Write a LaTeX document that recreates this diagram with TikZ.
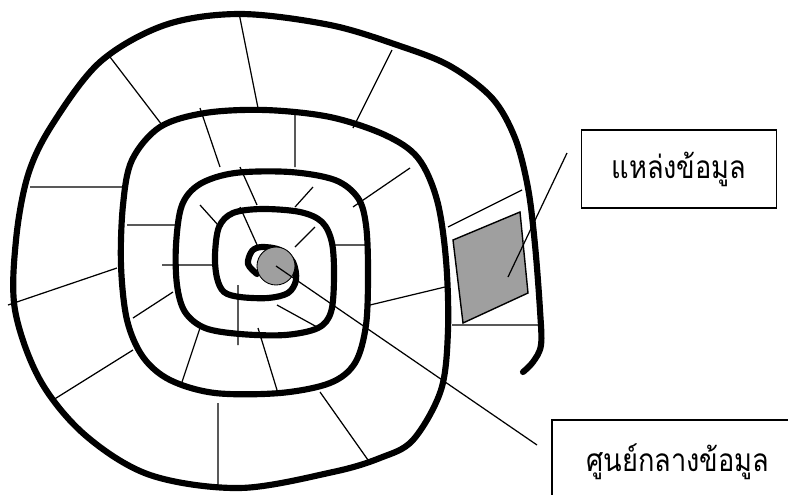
\documentclass[tikz,border=0pt]{standalone}
\usepackage{fontspec}
\newfontfamily\thaifont[Script=Thai, FakeStretch=0.86]{Loma}
\usepackage{tikz}
\usetikzlibrary{positioning}

\begin{document}
\begin{tikzpicture}[
  x=0.02cm, y=-0.02cm,
  coil/.style={line width=3.5pt, line cap=round, line join=round},
  spoke/.style={line width=0.7pt},
  hub/.style={circle, draw, line width=0.5pt, fill=gray!75, minimum size=0.76cm, inner sep=0pt},
  tag/.style={rectangle, draw, line width=0.8pt, font=\thaifont\fontsize{18}{21}\selectfont,
              inner sep=0pt},
  lead/.style={line width=0.7pt}
]
\clip (0,0) rectangle (788,494);
\fill[white] (0,0) rectangle (788,494);

% the spiral, from the inner hook outward
\draw[coil] plot[smooth, tension=0.55] coordinates {
  (257,274) (248,264) (252,251) (262,247) (280,250) (293,262) (296,280) (288,293)
  (268,298) (240,297) (224,292) (217,278) (215,255) (219,227) (233,213) (262,209)
  (300,212) (322,222) (332,243) (334,278) (331,312) (318,328) (285,335) (240,334)
  (205,328) (185,312) (177,285) (176,245) (182,205) (200,184) (235,173) (290,172)
  (335,180) (358,198) (366,225) (368,270) (366,325) (355,363) (330,383) (280,393)
  (215,393) (170,380) (143,357) (127,320) (121,265) (123,205) (132,160) (160,127)
  (205,113) (265,110) (330,117) (385,135) (418,158) (437,200) (446,260) (448,330)
  (441,390) (413,440) (380,458) (333,472) (240,488) (150,475) (85,435) (40,380)
  (15,310) (16,240) (28,175) (52,125) (100,62) (165,25) (240,14) (330,25)
  (400,46) (450,66) (492,98) (515,138) (528,188) (535,245) (540,310) (541,345)
  (533,362) (523,372)};

% cross lines between the turns
\draw[spoke]
  (110,57) -- (162,125)   (239,13) -- (258,108)   (392,50) -- (353,128)
  (30,187) -- (125,187)   (8,305) -- (117,268)    (53,400) -- (133,350)
  (218,403) -- (218,485)  (320,392) -- (368,460)  (370,305) -- (445,287)
  (448,227) -- (522,190)  (452,325) -- (538,325)
  (200,108) -- (220,167)  (295,110) -- (295,167)  (410,168) -- (353,207)
  (127,225) -- (175,225)  (133,318) -- (173,292)  (182,382) -- (200,328)
  (258,328) -- (277,390)  (335,245) -- (367,245)
  (240,167) -- (257,205)  (313,187) -- (295,207)  (200,205) -- (218,225)
  (162,265) -- (213,265)  (238,285) -- (238,345)  (277,305) -- (317,327)
  (240,207) -- (258,247)  (315,227) -- (295,247);

% source block
\draw[line width=0.8pt, fill=gray!75] (453,240) -- (520,212) -- (528,293) -- (463,323) -- cycle;

% centre
\node[hub] (hub) at (276,266) {};

% labels
\node[tag, minimum width=3.9cm, minimum height=1.56cm] (src) at (679,169) {แหล่งข้อมูล};
\node[tag, minimum width=5.2cm, minimum height=2cm] (core) at (682,470) {};
\node[font=\thaifont\fontsize{18}{21}\selectfont, anchor=west] (coretxt) at (580,462) {ศูนย์กลางข้อมูล};

\coordinate (srcin) at (508,277);
\coordinate (srcend) at (567,153);
\coordinate (coreend) at (537,445);
\draw[lead] (srcin) -- (srcend);
\draw[lead] (hub.center) -- (coreend);
\end{tikzpicture}
\end{document}
